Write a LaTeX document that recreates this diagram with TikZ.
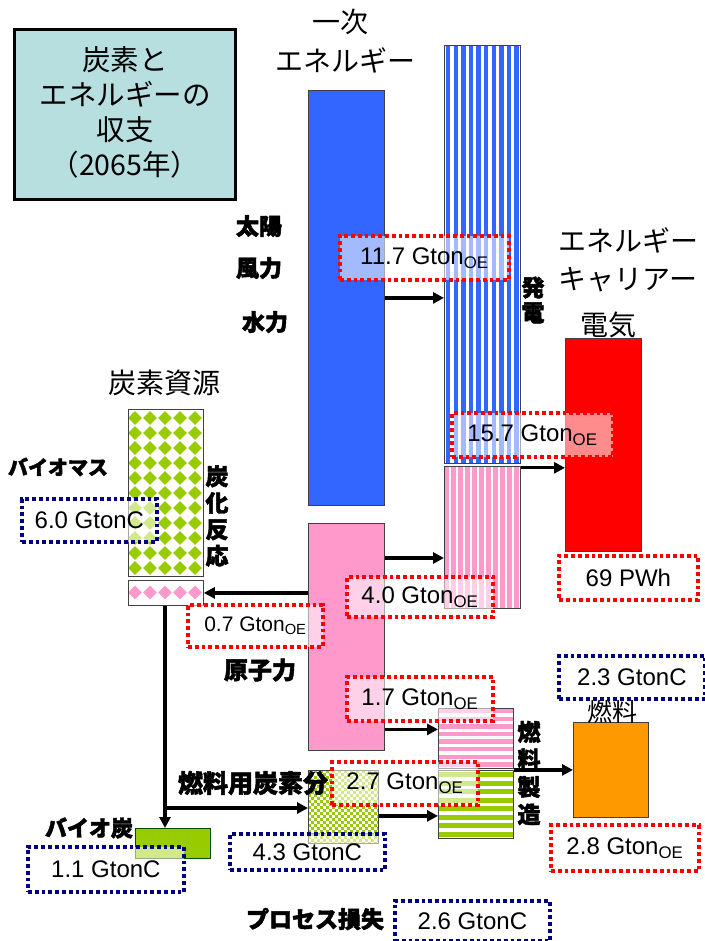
\documentclass[tikz,border=0pt]{standalone}
\usepackage{fontspec}
\setmainfont{Liberation Sans}
\newfontfamily\jp[BoldFeatures={FakeBold=2}]{Noto Sans CJK JP}
\usetikzlibrary{arrows.meta}
\definecolor{tealbg}{RGB}{183,223,224}
\definecolor{bl}{RGB}{51,102,255}
\definecolor{pk}{RGB}{255,153,204}
\definecolor{gr}{RGB}{153,204,0}
\definecolor{og}{RGB}{255,153,0}
\definecolor{nv}{RGB}{0,0,128}
\begin{document}
\begin{tikzpicture}[x=1pt,y=-1pt,
  col/.style={draw=black!75, line width=0.8pt, inner sep=0pt, anchor=north west},
  arr/.style={-{Triangle[length=11pt,width=11pt]}, line width=3.2pt},
  lab/.style={draw=#1, line width=3.8pt, dash pattern=on 3.8pt off 3pt, fill=white, fill opacity=0.55, text opacity=1, inner sep=0pt, anchor=north west, font=\fontsize{24}{26}\selectfont},
  jpl/.style={font=\jp\fontsize{28}{34}\selectfont, inner sep=0pt},
  jpb/.style={font=\jp\bfseries\fontsize{23}{27}\selectfont, inner sep=0pt, align=center}]
\useasboundingbox (0,0) rectangle (704,941);

% title box
\node[draw=black, line width=3pt, fill=tealbg, minimum width=221pt, minimum height=170pt, anchor=north west, inner sep=0pt] (title) at (13,28) {};
\node[jpl, align=center, font=\jp\fontsize{28.5}{35}\selectfont] (titletext) at ([yshift=2pt]title.center) {炭素と\\エネルギーの\\収支\\（2065年）};

% primary energy header
\node[jpl] (h1) at (340,22) {一次};
\node[jpl] (h2) at (345,60) {エネルギー};

% blue primary column
\node[col, fill=bl, minimum width=76pt, minimum height=415pt] (blue) at (308,90) {};

% power generation (blue stripes)
\fill[white] (444,45) rectangle (520,463);
\foreach \i in {0,...,9} \fill[bl] ({446+\i*7.6},45) rectangle ++(4.4,418);
\node[col, minimum width=76pt, minimum height=418pt] (power) at (444,45) {};

% pink striped power
\fill[white] (444,466) rectangle (520,608);
\foreach \i in {0,...,10} \fill[pk] ({444+\i*7},466) rectangle ++(4.6,142);
\node[col, minimum width=76pt, minimum height=142pt] (ppower) at (444,466) {};

% red electricity
\node[col, fill=red, minimum width=76pt, minimum height=213pt] (red) at (565,338) {};

% nuclear
\node[col, fill=pk, minimum width=76pt, minimum height=227pt] (nuc) at (308,523) {};

% biomass column (diamonds)
\fill[white] (128,409) rectangle (203,576);
\begin{scope}
\clip (128,409) rectangle (203,576);
\foreach \i in {0,...,5} \foreach \j in {0,...,11}
  \fill[gr] ({135+\i*15},{418+\j*15-6.8}) -- ++(6.8,6.8) -- ++(-6.8,6.8) -- ++(-6.8,-6.8) -- cycle;
\end{scope}
\node[col, minimum width=75pt, minimum height=167pt] (bio) at (128,409) {};

% small pink carbonization
\fill[white] (128,580) rectangle (203,605);
\begin{scope}
\clip (128,580) rectangle (203,605);
\foreach \i in {0,...,5}
  \fill[pk] ({135+\i*15},{592.5-6.8}) -- ++(6.8,6.8) -- ++(-6.8,6.8) -- ++(-6.8,-6.8) -- cycle;
\end{scope}
\node[col, minimum width=75pt, minimum height=25pt] (bioc) at (128,580) {};

% fuel production pink (horizontal stripes)
\fill[white] (438,708) rectangle (513,768);
\foreach \j in {0,...,7} \fill[pk] (438,{709+\j*7.6}) rectangle ++(75,4.4);
\node[col, minimum width=75pt, minimum height=60pt] (fpink) at (438,708) {};

% fuel production green (horizontal stripes)
\fill[white] (438,770) rectangle (513,838);
\foreach \j in {0,...,7} \fill[gr] (438,{772+\j*8.5}) rectangle ++(75,5);
\node[col, minimum width=75pt, minimum height=68pt] (fgreen) at (438,770) {};

% checkered carbon for fuel
\fill[white] (308,770) rectangle (378,843);
\begin{scope}
\clip (308,770) rectangle (378,843);
\foreach \i in {0,...,23} \foreach \j in {0,...,24} {
  \pgfmathtruncatemacro\p{mod(\i+\j,2)}
  \ifnum\p=0 \fill[gr] ({308+\i*3},{770+\j*3}) rectangle ++(3,3); \fi
}
\end{scope}
\node[col, minimum width=70pt, minimum height=73pt] (check) at (308,770) {};

% biochar
\node[col, draw=green!30!black, fill=gr, minimum width=75pt, minimum height=30pt] (biochar) at (135,828) {};

% fuel (orange)
\node[col, fill=og, minimum width=75pt, minimum height=95pt] (fuel) at (573,722) {};

% arrows
\draw[arr] (blue.east) -- (blue.east -| power.west);
\draw[arr] ([yshift=-4pt]power.south east) -- ([yshift=-4pt]power.south east -| red.west);
\draw[arr] ([yshift=-35pt]nuc.north east) -- ([yshift=-35pt]nuc.north east -| ppower.west);
\draw[arr] (bioc.east -| nuc.west) -- (bioc.east);
\draw[arr] ([yshift=9pt]fpink.west -| nuc.east) -- ([yshift=9pt]fpink.west);
\coordinate (j) at (165,808);
\draw[line width=3.2pt] (bioc.south -| j) -- (j);
\draw[arr] (j) -- (j |- biochar.north);
\draw[arr] (j) -- (j -| check.west);
\draw[arr] ([yshift=-9pt]check.east) -- ([yshift=-9pt]check.east -| fgreen.west);
\draw[arr] (fuel.west -| fpink.east) -- (fuel.west);

% text labels
\node[jpb] (taiyo) at (259,226) {太陽};
\node[jpb] (furyoku) at (259,268) {風力};
\node[jpb] (suiryoku) at (265,322) {水力};
\node[jpb, font=\jp\bfseries\fontsize{23}{25}\selectfont] (hatsuden) at (533,300) {発\\電};
\node[jpl] (ec1) at (628,240) {エネルギー};
\node[jpl] (ec2) at (628,280) {キャリアー};
\node[jpl] (denki) at (608,325) {電気};
\node[jpl] (tanso) at (164,383) {炭素資源};
\node[jpb, font=\jp\bfseries\fontsize{20}{24}\selectfont] (biomass) at (58,467) {バイオマス};
\node[jpb, font=\jp\bfseries\fontsize{23}{26.5}\selectfont] (tanka) at (217,516) {炭\\化\\反\\応};
\node[jpb, font=\jp\bfseries\fontsize{24}{27}\selectfont] (genshi) at (260,670) {原子力};
\node[jpb, font=\jp\bfseries\fontsize{23}{27.5}\selectfont] (nenryo) at (529,773) {燃\\料\\製\\造};
\node[jpl, font=\jp\fontsize{25}{30}\selectfont] (nenryo2) at (612,712) {燃料};
\node[jpb, font=\jp\bfseries\fontsize{25}{28}\selectfont] (nenryoC) at (253,783) {燃料用炭素分};
\node[jpb, font=\jp\bfseries\fontsize{22}{26}\selectfont] (biotan) at (89,828) {バイオ炭};
\node[jpb, font=\jp\bfseries\fontsize{23}{26}\selectfont] (loss) at (315,919) {プロセス損失};

% value boxes
\node[lab=red, minimum width=169pt, minimum height=44pt] (l117) at (338,234) {11.7 Gton\textsubscript{OE}};
\node[lab=red, minimum width=161pt, minimum height=44pt] (l157) at (450,411) {15.7 Gton\textsubscript{OE}};
\node[lab=red, minimum width=139pt, minimum height=44pt] (l69) at (557,554) {69 PWh};
\node[lab=red, minimum width=146pt, minimum height=40pt] (l40) at (345,575) {4.0 Gton\textsubscript{OE}};
\node[lab=red, minimum width=135pt, minimum height=42pt, font=\fontsize{21}{23}\selectfont] (l07) at (186,603) {0.7 Gton\textsubscript{OE}};
\node[lab=red, minimum width=146pt, minimum height=44pt] (l17) at (345,675) {1.7 Gton\textsubscript{OE}};
\node[lab=red, minimum width=146pt, minimum height=43pt] (l27) at (330,760) {2.7 Gton\textsubscript{OE}};
\node[lab=red, minimum width=148pt, minimum height=46pt] (l28) at (549,823) {2.8 Gton\textsubscript{OE}};
\node[lab=nv, minimum width=146pt, minimum height=43pt] (l23) at (557,654) {2.3 GtonC};
\node[lab=nv, minimum width=135pt, minimum height=43pt] (l60) at (20,497) {6.0 GtonC};
\node[lab=nv, minimum width=156pt, minimum height=45pt] (l11) at (26,845) {1.1 GtonC};
\node[lab=nv, minimum width=155pt, minimum height=36pt] (l43) at (228,832) {4.3 GtonC};
\node[lab=nv, minimum width=155pt, minimum height=40pt] (l26) at (393,899) {2.6 GtonC};
\end{tikzpicture}
\end{document}
